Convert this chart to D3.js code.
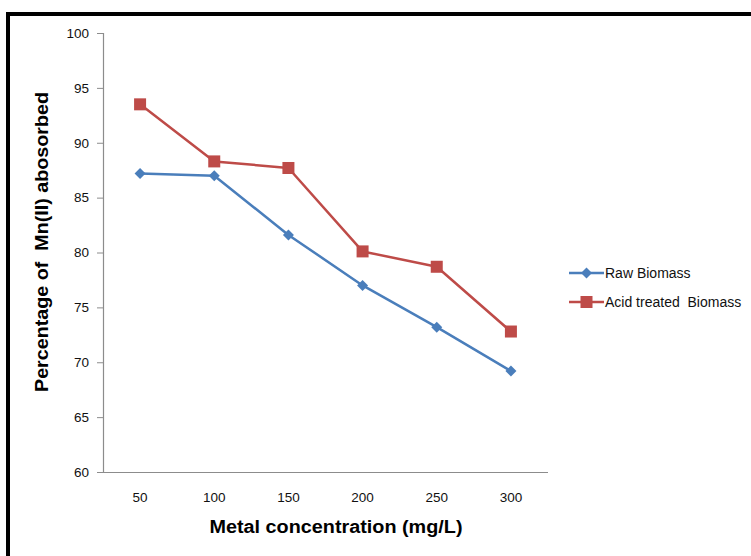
<!DOCTYPE html>
<html>
<head>
<meta charset="utf-8">
<script src="https://cdn.jsdelivr.net/npm/d3@7"></script>
<style>
  html, body { margin: 0; padding: 0; background: #fff; }
  svg { display: block; }
  text { white-space: pre; }
</style>
</head>
<body>
<svg id="chart" width="751" height="556"></svg>
<script>
// Metal concentrations (mg/L) on the x axis
const concentrations = ["50", "100", "150", "200", "250", "300"];
// Percentage of Mn(II) absorbed for each biomass
const rawBiomass = [87.2, 87.0, 81.6, 77.0, 73.2, 69.2];
const acidBiomass = [93.5, 88.3, 87.7, 80.1, 78.7, 72.8];
const seriesNames = ["Raw Biomass", "Acid treated  Biomass"];
const yTicks = [60, 65, 70, 75, 80, 85, 90, 95, 100];

const svg = d3.select("#chart");
const W = 751, H = 556;

// outer frame: top and left rules
svg.append("line").attr("x1", 6).attr("x2", W).attr("y1", 14).attr("y2", 14)
  .attr("stroke", "#000").attr("stroke-width", 4);
svg.append("line").attr("x1", 8).attr("x2", 8).attr("y1", 12).attr("y2", H)
  .attr("stroke", "#000").attr("stroke-width", 4);

const plot = { left: 103, right: 548, top: 33, bottom: 472 };

const x = d3.scaleBand().domain(concentrations).range([plot.left, plot.right]);
const y = d3.scaleLinear().domain([60, 100]).range([plot.bottom, plot.top]);

const tickFont = "'Liberation Sans', Arial, sans-serif";

// y axis
const yAxis = svg.append("g").attr("transform", `translate(${plot.left},0)`)
  .call(d3.axisLeft(y).tickValues(yTicks).tickSize(6).tickPadding(8).tickFormat(d3.format("d")));
yAxis.select(".domain").attr("stroke", "#8c8c8c").attr("stroke-width", 1.2)
  .attr("d", `M0.5,${plot.top}V${plot.bottom}`);
yAxis.selectAll(".tick line").attr("stroke", "#8c8c8c");
yAxis.selectAll("text").attr("font-family", tickFont).attr("font-size", 13.5).attr("fill", "#111");

// x axis
const xAxis = svg.append("g").attr("transform", `translate(0,${plot.bottom})`)
  .call(d3.axisBottom(x).tickSize(0).tickPadding(20));
xAxis.select(".domain").attr("stroke", "#8c8c8c").attr("stroke-width", 1.2)
  .attr("d", `M${plot.left},0.5H${plot.right}`);
xAxis.selectAll("text").attr("font-family", tickFont).attr("font-size", 13.5).attr("fill", "#111");

const cx = d => x(d) + x.bandwidth() / 2;
const line = d3.line().x((d, i) => cx(concentrations[i])).y(d => y(d));

const series = [
  { name: seriesNames[0], values: rawBiomass, color: "#4a7ebb", marker: "diamond" },
  { name: seriesNames[1], values: acidBiomass, color: "#be4b48", marker: "square" }
];

function drawMarker(g, type, color, px, py) {
  if (type === "square") {
    g.append("rect").attr("x", px - 6).attr("y", py - 6).attr("width", 12).attr("height", 12)
      .attr("fill", color);
  } else {
    g.append("path").attr("d", `M${px},${py - 5.5}L${px + 5.5},${py}L${px},${py + 5.5}L${px - 5.5},${py}Z`)
      .attr("fill", color);
  }
}

series.forEach(s => {
  const g = svg.append("g");
  g.append("path").attr("d", line(s.values)).attr("fill", "none")
    .attr("stroke", s.color).attr("stroke-width", 2.5).attr("stroke-linejoin", "round");
  s.values.forEach((v, i) => drawMarker(g, s.marker, s.color, cx(concentrations[i]), y(v)));
});

// legend
series.forEach((s, i) => {
  const ly = 273 + i * 29;
  const g = svg.append("g");
  g.append("line").attr("x1", 569).attr("x2", 604).attr("y1", ly).attr("y2", ly)
    .attr("stroke", s.color).attr("stroke-width", 2.5);
  drawMarker(g, s.marker, s.color, 586.5, ly);
  g.append("text").attr("x", 605).attr("y", ly).attr("dy", "0.35em")
    .attr("font-family", tickFont).attr("font-size", 14).attr("fill", "#111").text(s.name);
});

// axis titles
svg.append("text").attr("x", 336).attr("y", 533).attr("text-anchor", "middle")
  .attr("font-family", "'Liberation Sans', Arial, sans-serif").attr("font-weight", "bold")
  .attr("font-size", 18).attr("textLength", 253).attr("lengthAdjust", "spacingAndGlyphs")
  .attr("fill", "#000").text("Metal concentration (mg/L)");
svg.append("text").attr("transform", "translate(48,242) rotate(-90)").attr("text-anchor", "middle")
  .attr("font-family", "'Liberation Sans', Arial, sans-serif").attr("font-weight", "bold")
  .attr("font-size", 18).attr("textLength", 300).attr("lengthAdjust", "spacingAndGlyphs")
  .attr("fill", "#000").text("Percentage of  Mn(II) abosorbed");
</script>
</body>
</html>
